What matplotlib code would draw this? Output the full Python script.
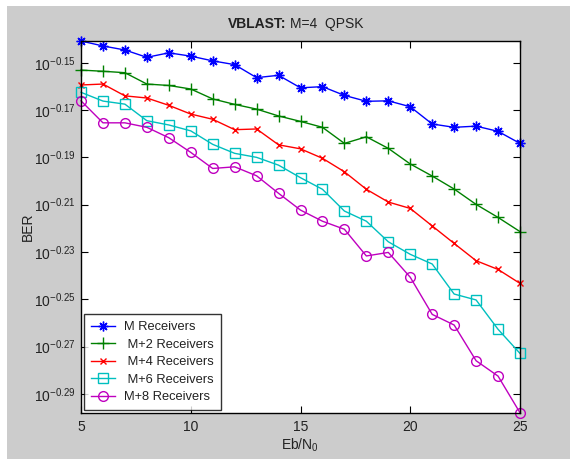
import numpy as np
import matplotlib
matplotlib.use("Agg")
import matplotlib.pyplot as plt
from matplotlib.patches import Rectangle

plt.rcParams['font.family'] = ['Liberation Sans', 'DejaVu Sans']
plt.rcParams['mathtext.fontset'] = 'custom'
plt.rcParams['mathtext.rm'] = 'Liberation Sans'
plt.rcParams['mathtext.it'] = 'Liberation Sans'
plt.rcParams['mathtext.bf'] = 'Liberation Sans:bold'

ebn0 = list(range(5, 26))

# log10(BER)
log_m = [-0.1408, -0.1429, -0.1446, -0.1477, -0.1458, -0.1472, -0.1492, -0.1508, -0.1563, -0.1553,
         -0.1606, -0.1601, -0.1638, -0.1663, -0.1661, -0.1686, -0.1759, -0.1773, -0.1768, -0.1790, -0.1841]
log_m2 = [-0.1531, -0.1536, -0.1542, -0.1590, -0.1596, -0.1611, -0.1653, -0.1676, -0.1696, -0.1725,
          -0.1748, -0.1773, -0.1841, -0.1813, -0.1862, -0.1928, -0.1979, -0.2034, -0.2099, -0.2154, -0.2214]
log_m4 = [-0.1594, -0.1590, -0.1640, -0.1649, -0.1680, -0.1717, -0.1739, -0.1783, -0.1780, -0.1847,
          -0.1864, -0.1904, -0.1961, -0.2035, -0.2089, -0.2116, -0.2190, -0.2264, -0.2337, -0.2374, -0.2433]
log_m6 = [-0.1625, -0.1662, -0.1675, -0.1745, -0.1763, -0.1788, -0.1845, -0.1883, -0.1900, -0.1933,
          -0.1986, -0.2035, -0.2127, -0.2170, -0.2257, -0.2310, -0.2351, -0.2478, -0.2503, -0.2627, -0.2729]
log_m8 = [-0.1661, -0.1754, -0.1754, -0.1773, -0.1817, -0.1879, -0.1947, -0.1940, -0.1978, -0.2052,
          -0.2123, -0.2170, -0.2204, -0.2317, -0.2302, -0.2407, -0.2564, -0.2609, -0.2760, -0.2825, -0.2980]

labels = ['M Receivers', ' M+2 Receivers', ' M+4 Receivers', ' M+6 Receivers', 'M+8 Receivers']
ytick_exp = [-0.29, -0.27, -0.25, -0.23, -0.21, -0.19, -0.17, -0.15]
xticks = [5, 10, 15, 20, 25]

series = [log_m, log_m2, log_m4, log_m6, log_m8]
colors = [(0, 0, 1), (0, 0.5, 0), (1, 0, 0), (0, 0.75, 0.75), (0.75, 0, 0.75)]
markers = [(8, 2, 0), '+', 'x', 's', 'o']
msizes = [7, 8, 5, 6.5, 7]

fig = plt.figure(figsize=(5.7, 4.59), dpi=100, facecolor='white')
fig.patches.append(Rectangle((7 / 570, 0), 1, (459 - 6) / 459, transform=fig.transFigure,
                             facecolor='#cccccc', edgecolor='none', zorder=-10))
ax = fig.add_axes([81 / 570, 1 - 413 / 459, (520 - 81) / 570, (413 - 41) / 459])

for s, c, mk, ms, lab in zip(series, colors, markers, msizes, labels):
    y = 10 ** np.array(s)
    ax.plot(ebn0, y, color=c, marker=mk, markersize=ms, markerfacecolor='none',
            markeredgecolor=c, markeredgewidth=1.0, linewidth=1.0, label=lab, clip_on=False)

ax.set_yscale('log')
ax.set_xlim(5, 25)
ax.set_ylim(10 ** -0.2981, 10 ** -0.1408)
ax.set_yticks([10 ** e for e in ytick_exp])
ax.set_yticklabels([r'$10^{%s}$' % ('%.2f' % e) for e in ytick_exp])
ax.yaxis.set_minor_locator(matplotlib.ticker.NullLocator())
ax.set_xticks(xticks)
ax.set_xticklabels([str(t) for t in xticks])
ax.tick_params(direction='in', top=True, right=True, length=5, width=0.8,
               labelsize=10, colors='black', labelcolor='#222222')
ax.tick_params(axis='x', pad=5)
for sp in ax.spines.values():
    sp.set_linewidth(1.0)

ax.set_xlabel(r'Eb/N$_0$', fontsize=10, color='#222222', labelpad=2)
ax.set_ylabel('BER', fontsize=10, color='#222222')
ax.yaxis.set_label_coords(-0.105, 0.5)

# title: bold "VBLAST:" followed by normal text
fig.text(286 / 570, 1 - 24 / 459, 'VBLAST:', fontsize=10, fontweight='bold',
         color='#222222', ha='right', va='center')
fig.text(290 / 570, 1 - 24 / 459, 'M=4  QPSK', fontsize=10,
         color='#222222', ha='left', va='center')

leg = ax.legend(loc='lower left', fontsize=9.3, frameon=True, fancybox=False, shadow=False,
                borderaxespad=0.2, handlelength=1.9, labelspacing=0.42, borderpad=0.55,
                handletextpad=0.7)
leg.get_frame().set_edgecolor('black')
leg.get_frame().set_linewidth(1.0)
for t in leg.get_texts():
    t.set_color('#222222')

fig.savefig('out.png', dpi=100, facecolor=fig.get_facecolor())
